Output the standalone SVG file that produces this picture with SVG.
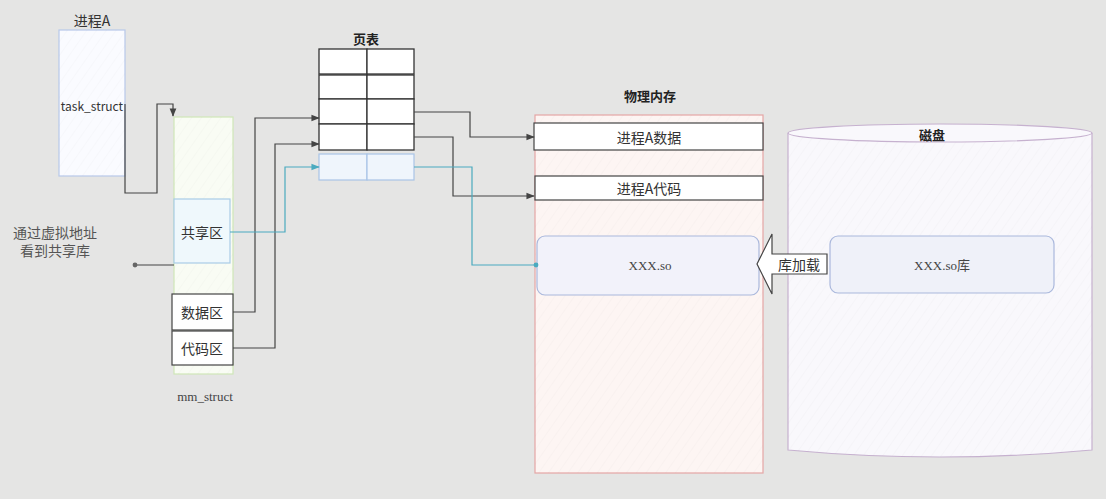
<svg xmlns="http://www.w3.org/2000/svg" width="1106" height="499" viewBox="0 0 1106 499">
<style>
.t{font-family:"Noto Sans CJK SC","Liberation Sans",sans-serif;fill:#333;text-anchor:middle;dominant-baseline:central}
.s{font-size:14px}
.b{font-size:13px;font-weight:bold;fill:#222}
.serif{font-family:"Liberation Serif","Noto Sans CJK SC",serif;fill:#444;text-anchor:middle;dominant-baseline:central}
.ln{fill:none;stroke:#444;stroke-width:1.2}
.bl{fill:none;stroke:#4aaabf;stroke-width:1.2}
.cell{fill:#fff;stroke:#333;stroke-width:1.3}
</style>
<defs>
<marker id="ah" viewBox="0 0 10 10" refX="9" refY="5" markerWidth="7" markerHeight="7" orient="auto"><path d="M0,1 L10,5 L0,9 z" fill="#444"/></marker>
<marker id="ahb" viewBox="0 0 10 10" refX="9" refY="5" markerWidth="7" markerHeight="7" orient="auto"><path d="M0,1 L10,5 L0,9 z" fill="#4aaabf"/></marker>
<marker id="dot" viewBox="0 0 10 10" refX="5" refY="5" markerWidth="5" markerHeight="5"><circle cx="5" cy="5" r="4" fill="#666"/></marker>
<marker id="dotb" viewBox="0 0 10 10" refX="5" refY="5" markerWidth="5" markerHeight="5"><circle cx="5" cy="5" r="4" fill="#4aaabf"/></marker>
<pattern id="hatch" width="8" height="8" patternUnits="userSpaceOnUse" patternTransform="rotate(35)"><line x1="0" y1="0" x2="0" y2="8" stroke="#000" stroke-opacity="0.015" stroke-width="2"/></pattern>
</defs>
<rect width="1106" height="499" fill="#e5e5e4"/>

<g id="process-a">
<rect x="59" y="30" width="66" height="146" fill="#fafbff" stroke="#b7c8ea" stroke-width="1.2"/>
<rect x="59" y="30" width="66" height="146" fill="url(#hatch)"/>
<text class="t s" x="92" y="20">进程A</text>
<text class="t" x="92" y="105" font-size="12" font-family="Liberation Sans,sans-serif">task_struct</text>
</g>

<g id="mm-struct">
<rect x="174" y="117" width="59" height="257" fill="#f9fcf4" stroke="#cfe6b8" stroke-width="1.2"/>
<rect x="174" y="117" width="59" height="257" fill="url(#hatch)"/>
<text class="serif" x="205" y="396" font-size="13">mm_struct</text>
</g>

<g id="shared-area">
<rect x="174" y="199" width="56" height="64" fill="#eff8fc" stroke="#a8cce6" stroke-width="1.2"/>
<text class="t s" x="202" y="232">共享区</text>
</g>
<g id="data-area">
<rect x="172" y="294" width="61" height="36" fill="#fff" stroke="#444" stroke-width="1.2"/>
<text class="t s" x="202" y="312">数据区</text>
</g>
<g id="code-area">
<rect x="172" y="331" width="61" height="34" fill="#fff" stroke="#444" stroke-width="1.2"/>
<text class="t s" x="202" y="348">代码区</text>
</g>

<g id="note">
<text class="t s" x="55" y="232" style="fill:#555">通过虚拟地址</text>
<text class="t s" x="55" y="250" style="fill:#555">看到共享库</text>
</g>

<g id="page-table">
<text class="t b" x="366" y="38">页表</text>
<rect class="cell" x="319" y="49" width="48" height="25"/><rect class="cell" x="367" y="49" width="47" height="25"/>
<rect class="cell" x="319" y="75" width="48" height="24"/><rect class="cell" x="367" y="75" width="47" height="24"/>
<rect class="cell" x="319" y="99" width="48" height="25"/><rect class="cell" x="367" y="99" width="47" height="25"/>
<rect class="cell" x="319" y="124" width="48" height="26"/><rect class="cell" x="367" y="124" width="47" height="26"/>
<rect x="319" y="154" width="48" height="26" fill="#eff5fc" stroke="#a8c4e6" stroke-width="1.2"/>
<rect x="367" y="154" width="47" height="26" fill="#eff5fc" stroke="#a8c4e6" stroke-width="1.2"/>
</g>

<g id="physical-memory">
<text class="t b" x="650" y="95">物理内存</text>
<rect x="535" y="115" width="228" height="358" fill="#fdf5f3" stroke="#e4a6a6" stroke-width="1.2"/>
<rect x="535" y="115" width="228" height="358" fill="url(#hatch)"/>
</g>
<g id="proc-a-data">
<rect x="534" y="123" width="229" height="27" fill="#fff" stroke="#444" stroke-width="1.2"/>
<text class="t s" x="649" y="137">进程A数据</text>
</g>
<g id="proc-a-code">
<rect x="535" y="176" width="228" height="24" fill="#fff" stroke="#444" stroke-width="1.2"/>
<text class="t s" x="649" y="188">进程A代码</text>
</g>
<g id="xxx-so">
<rect x="537" y="236" width="222" height="59" rx="8" fill="#f2f2fa" stroke="#aab8dc" stroke-width="1.2"/>
<text class="serif" x="650" y="265" font-size="13">XXX.so</text>
</g>

<g id="disk">
<path d="M788,133 L788,450 Q940,464 1092,450 L1092,133" fill="#f9f8fc" stroke="#c6b1cf" stroke-width="1.2"/>
<path d="M788,133 L788,450 Q940,464 1092,450 L1092,133" fill="url(#hatch)"/>
<ellipse cx="940" cy="133" rx="152" ry="9" fill="#f9f8fc" stroke="#c6b1cf" stroke-width="1.2"/>
<text class="t b" x="932" y="134">磁盘</text>
</g>
<g id="xxx-so-lib">
<rect x="830" y="236" width="224" height="57" rx="8" fill="#eff1f9" stroke="#aab8dc" stroke-width="1.2"/>
<text class="serif" x="942" y="265" font-size="13">XXX.so库</text>
</g>

<g id="load-arrow">
<path d="M757,264 L772,234 L772,254 L827,254 L827,274 L772,274 L772,294 Z" fill="#fff" stroke="#444" stroke-width="1.2"/>
<text class="t s" x="799" y="264">库加载</text>
</g>

<g id="connectors">
<path class="ln" d="M125,104 L125,193 L157,193 L157,104 L173,104 L173,116" marker-end="url(#ah)"/>
<path class="ln" d="M174,265 L135,265" marker-end="url(#dot)"/>
<path class="ln" d="M233,312 L255,312 L255,118 L319,118" marker-end="url(#ah)"/>
<path class="ln" d="M233,348 L275,348 L275,144 L319,144" marker-end="url(#ah)"/>
<path class="bl" d="M230,232 L285,232 L285,167 L319,167" marker-end="url(#ahb)"/>
<path class="ln" d="M414,112 L470,112 L470,137 L534,137" marker-end="url(#ah)"/>
<path class="ln" d="M414,137 L453,137 L453,196 L534,196" marker-end="url(#ah)"/>
<path class="bl" d="M414,167 L472,167 L472,265 L536,265" marker-end="url(#dotb)"/>
</g>
</svg>
